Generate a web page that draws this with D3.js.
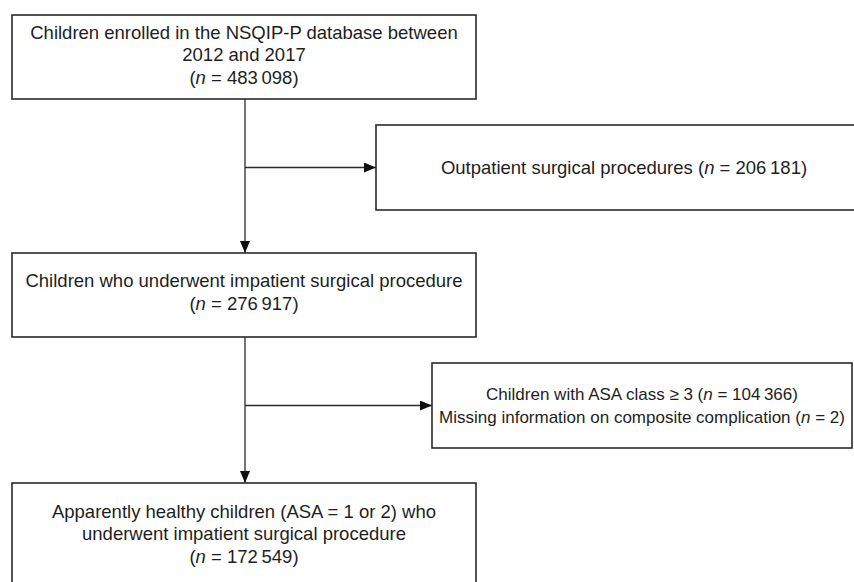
<!DOCTYPE html>
<html>
<head>
<meta charset="utf-8">
<script src="https://cdn.jsdelivr.net/npm/d3@7"></script>
<style>
  html, body { margin: 0; padding: 0; background: #fff; }
  svg { display: block; }
</style>
</head>
<body>
<svg id="chart" width="854" height="582"></svg>
<script>
// ---- data ----
const mainLabels = [
  ["Children enrolled in the NSQIP-P database between", "2012 and 2017"],
  ["Children who underwent impatient surgical procedure"],
  ["Apparently healthy children (ASA = 1 or 2) who", "underwent impatient surgical procedure"]
];
const mainCounts = [483098, 276917, 172549];
const exclusionLabels = [
  ["Outpatient surgical procedures"],
  ["Children with ASA class \u2265 3", "Missing information on composite complication"]
];
const exclusionCounts = [[206181], [104366, 2]];

// ---- layout ----
const W = 854, H = 582;
const svg = d3.select("#chart");
const fontFamily = "'Liberation Sans', Arial, sans-serif";
const lineH = 22.5;
const stroke = "#2a2a2a", textColor = "#1e1e1e";

const fmt = n => {
  const s = String(n);
  return s.length > 4 ? s.replace(/\B(?=(\d{3})+(?!\d))/g, "\u2009") : s;
};

const mainBoxes = [
  {x: 12, y: 15, w: 464, h: 84, dy: -2, fs: 18.5},
  {x: 12, y: 253, w: 464, h: 84, dy: -3, fs: 18.5},
  {x: 12, y: 483, w: 464, h: 102, dy: 0, fs: 18.5}
];
const exclBoxes = [
  {x: 376, y: 125, w: 500, h: 85, cx: 624, dy: 0, fs: 18.5},
  {x: 432, y: 363, w: 420, h: 85, cx: 642, dy: 0, fs: 17}
];
const spineX = 245;

svg.append("defs").append("marker")
  .attr("id", "arr").attr("viewBox", "0 0 12 10")
  .attr("refX", 12).attr("refY", 5)
  .attr("markerWidth", 12).attr("markerHeight", 10)
  .attr("markerUnits", "userSpaceOnUse")
  .attr("orient", "auto")
  .append("path").attr("d", "M0,0 L12,5 L0,10 Z").attr("fill", "#111");

// connectors
for (let i = 0; i < mainBoxes.length - 1; i++) {
  const a = mainBoxes[i], b = mainBoxes[i + 1];
  svg.append("line")
    .attr("x1", spineX).attr("x2", spineX)
    .attr("y1", a.y + a.h).attr("y2", b.y)
    .attr("stroke", stroke).attr("stroke-width", 1.3)
    .attr("marker-end", "url(#arr)");
  const e = exclBoxes[i];
  const by = e.y + e.h / 2;
  svg.append("line")
    .attr("x1", spineX).attr("x2", e.x)
    .attr("y1", by).attr("y2", by)
    .attr("stroke", stroke).attr("stroke-width", 1.3)
    .attr("marker-end", "url(#arr)");
}

function drawBox(b, lines) {
  svg.append("rect")
    .attr("x", b.x).attr("y", b.y).attr("width", b.w).attr("height", b.h)
    .attr("fill", "#fff").attr("stroke", stroke).attr("stroke-width", 1.6);
  const cx = b.cx != null ? b.cx : b.x + b.w / 2;
  const cy = b.y + b.h / 2 + (b.dy || 0);
  const y0 = cy - (lines.length - 1) * lineH / 2;
  lines.forEach((parts, i) => {
    const t = svg.append("text")
      .attr("x", cx).attr("y", y0 + i * lineH)
      .attr("dy", "0.35em")
      .attr("text-anchor", "middle")
      .attr("font-family", fontFamily)
      .attr("font-size", b.fs)
      .attr("fill", textColor);
    parts.forEach(p => {
      t.append("tspan").text(p.t).attr("font-style", p.i ? "italic" : null);
    });
  });
}

const countParts = (n, prefix) => [
  {t: (prefix || "") + "("}, {t: "n", i: true}, {t: " = " + fmt(n) + ")"}
];

mainBoxes.forEach((b, i) => {
  const lines = mainLabels[i].map(s => [{t: s}]);
  lines.push(countParts(mainCounts[i]));
  drawBox(b, lines);
});

exclBoxes.forEach((b, i) => {
  const lines = exclusionLabels[i].map((s, j) => countParts(exclusionCounts[i][j], s + " "));
  drawBox(b, lines);
});
</script>
</body>
</html>
